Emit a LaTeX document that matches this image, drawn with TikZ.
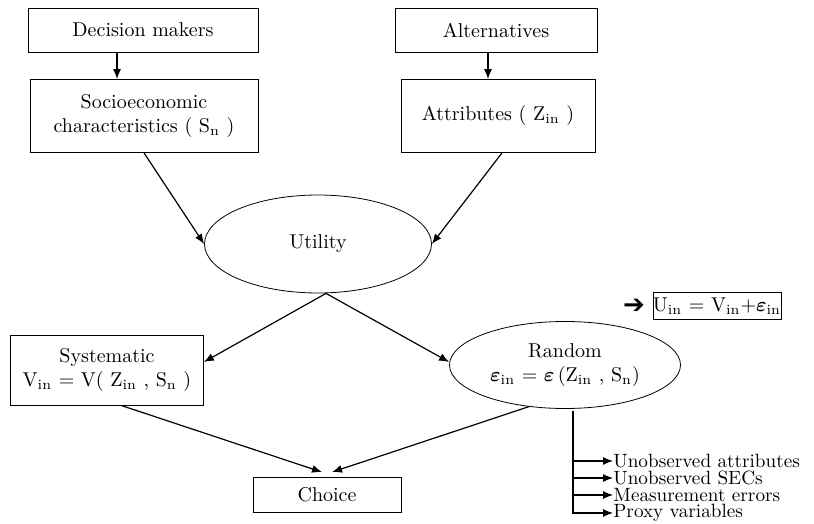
\documentclass[tikz,border=0pt]{standalone}
\usepackage{fontspec}
\usepackage{amsmath, amssymb, bm}
\usepackage{tikz}
\usetikzlibrary{arrows.meta, calc, shapes.geometric}
\newfontfamily\symfont{DejaVu Sans}
\newcommand{\sub}[1]{\textsubscript{#1}}
\newcommand{\eps}{$\bm{\varepsilon}$}

\begin{document}
\begin{tikzpicture}[x=0.5pt, y=-0.5pt,
  box/.style={draw, line width=0.4pt, inner sep=0pt, align=center},
  oval/.style={draw, ellipse, line width=0.4pt, inner sep=0pt, align=center},
  link/.style={-{Latex[length=5pt,width=4pt]}, line width=0.6pt},
  item/.style={anchor=west, inner sep=0pt, font=\fontsize{9.6}{11}\selectfont}]
\useasboundingbox (0,0) rectangle (814,524);
\node[box, minimum width=115pt, minimum height=22pt] (dm) at (143,30) {Decision makers};
\node[box, minimum width=101pt, minimum height=22pt] (alt) at (496,30) {Alternatives};
\node[box, minimum width=114pt, minimum height=36.5pt] (sec) at (144,116) {Socioeconomic\\characteristics ( S\sub{n} )};
\node[box, minimum width=97pt, minimum height=36.5pt] (attr) at (498,116) {Attributes ( Z\sub{in} )};
\node[oval, minimum width=113.5pt, minimum height=49pt] (util) at (318,244) {Utility};
\node[box, minimum width=96.5pt, minimum height=35pt] (sys) at (107,370) {Systematic\\V\sub{in} = V( Z\sub{in} , S\sub{n} )};
\node[oval, minimum width=115.5pt, minimum height=43.5pt] (rand) at (565,365) {Random\\\eps\sub{in} = \eps\,(Z\sub{in} , S\sub{n})};
\node[box, minimum width=74pt, minimum height=17.5pt] (choice) at (327,495) {Choice};
\node[box, minimum width=63.5pt, minimum height=13.5pt] (ueq) at (717,306) {U\sub{in} = V\sub{in}+\eps\sub{in}};
\node[inner sep=0pt] (bigarrow) at (634,306) {\symfont\fontsize{13}{13}\selectfont ➔};
% sources of randomness
\node[item] (it1) at (613,461) {Unobserved attributes};
\node[item] (it2) at (613,478) {Unobserved SECs};
\node[item] (it3) at (613,495) {Measurement errors};
\node[item] (it4) at (613,513) {Proxy variables};
\coordinate (br) at (573,411);

\draw[link] ([xshift=-13pt]dm.south) -- ([xshift=-13.5pt]sec.north);
\draw[link] ([xshift=-4pt]alt.south) -- ([xshift=-5pt]attr.north);
\draw[link] (sec.south) -- (util.west);
\draw[link] ([xshift=2pt]attr.south) -- (util.east);
\draw[link] ([xshift=4pt]util.south) -- ([yshift=4pt]sys.east);
\draw[link] ([xshift=4pt]util.south) -- ([yshift=1.5pt]rand.west);
\draw[link] ([xshift=7pt]sys.south) -- ([xshift=-2.5pt,yshift=2.5pt]choice.north);
\draw[link] (rand.229) -- ([xshift=2.5pt,yshift=2.5pt]choice.north);
\draw[link] (br) |- (it4.west);
\foreach \k in {1,2,3}
  \draw[link] (br |- it\k.west) -- (it\k.west);
\end{tikzpicture}
\end{document}
